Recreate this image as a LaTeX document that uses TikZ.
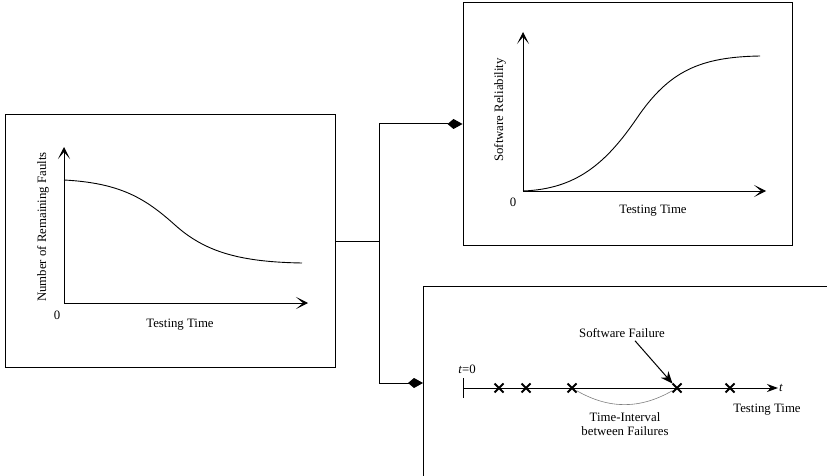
\documentclass[tikz,border=0pt]{standalone}
\usepackage{fontspec}
\setmainfont{Liberation Serif}
\usetikzlibrary{arrows.meta,shapes.misc}

\tikzset{
  panel/.style={draw, line width=1pt, inner sep=0pt},
  axis/.style={line width=1pt, -{Stealth[length=12pt,width=12pt,inset=7pt]}},
  feed/.style={line width=1pt, -{Kite[length=15pt,width=10pt,inset=6pt]}},
  failmark/.style={cross out, draw, line width=2pt, minimum size=7pt, inner sep=0pt},
  lbl/.style={font=\fontsize{12.8}{14.5}\selectfont, inner sep=1pt}
}

\begin{document}
\begin{tikzpicture}[x=1pt, y=-1pt, >=latex]
\useasboundingbox (0,0) rectangle (827,476);

% panels
\node[panel, minimum width=330pt, minimum height=252pt] (faults) at (170,241) {};
\node[panel, minimum width=329pt, minimum height=242pt] (reliab) at (627.5,124) {};
\coordinate (tlbox) at (423,286);
\draw[line width=1pt] (827,286) -- (tlbox) -- (423,476);

% remaining faults
\coordinate (o1) at (64,303);
\draw[axis] (o1) -- (64,147);
\draw[axis] (o1) -- (308,303);
\draw[line width=0.9pt] (64,180) .. controls (120,183) and (145,198) .. (175,225)
  .. controls (205,252) and (240,262) .. (302,263);
\node[lbl] (zero1) at (57,315) {0};
\node[lbl] (xlab1) at (180,325) {Testing Time};
\node[lbl, rotate=90] (ylab1) at (43,227) {Number of Remaining Faults};

% software reliability
\coordinate (o2) at (523,191);
\draw[axis] (o2) -- (523,32);
\draw[axis] (o2) -- (766,191);
\draw[line width=0.9pt] (o2) .. controls (575,189) and (605,165) .. (637,118)
  .. controls (669,71) and (700,57) .. (760,56);
\node[lbl] (zero2) at (513,202) {0};
\node[lbl] (xlab2) at (653,211) {Testing Time};
\node[lbl, rotate=90] (ylab2) at (500,110) {Software Reliability};

% connectors
\draw[line width=1pt] (faults.east) -- ++(44,0) coordinate (split);
\coordinate (tlin) at (423,383);
\draw[feed] (split) |- (reliab.west);
\draw[feed] (split) |- (tlin);

% failure time line
\coordinate (t0) at (463,388);
\coordinate (tend) at (778,388);
\draw[line width=1pt] (463,378) -- (463,398);
\draw[line width=1pt, -{Stealth[length=11pt,width=8pt]}] (t0) -- (tend);
\node[lbl, font=\fontsize{12.8}{14.5}\selectfont\itshape, anchor=west] (tvar) at (tend) {t};
\node[lbl] (tzero) at (467,369) {\textit{t}=0};
\foreach \x [count=\i] in {499,526,572,677,730}
  \node[failmark] (f\i) at (\x,388) {};
\draw[gray, line width=0.6pt] (f3) to[bend right=30] (f4);
\node[lbl] (failure) at (622,333) {Software Failure};
\draw[line width=1pt, -{Stealth[length=12pt,width=10pt]}] (failure.south) ++(13,2) -- (f4.north west);
\node[lbl, align=center] (interval) at (625,424) {Time-Interval\\between Failures};
\node[lbl] (xlab3) at (767,410) {Testing Time};
\end{tikzpicture}
\end{document}
